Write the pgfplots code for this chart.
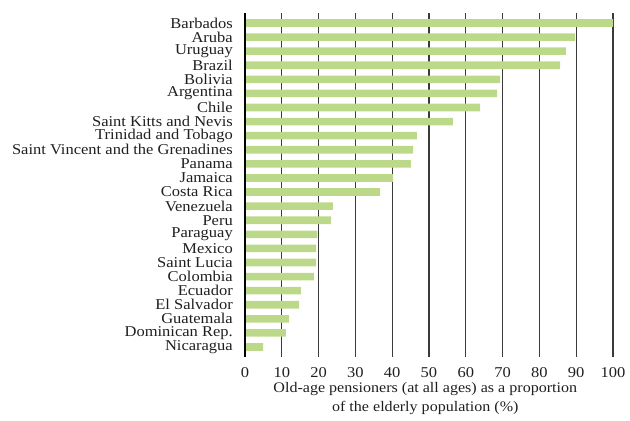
\documentclass[border=0pt]{standalone}
\usepackage{pgfplots}
\pgfplotsset{compat=1.18}
\usepackage{pgfplotstable}
\usepackage{fontspec}
\setmainfont{Liberation Serif}[FakeStretch=1.1]
\definecolor{barg}{HTML}{BCD98A}
\definecolor{gridc}{HTML}{3A3A3A}
\pgfplotstableread[col sep=comma]{
idx,val
0,100
1,89.7
2,87.2
3,85.6
4,69.3
5,68.5
6,63.9
7,56.5
8,46.7
9,45.7
10,45.1
11,40.2
12,36.7
13,23.9
14,23.4
15,19.7
16,19.3
17,19.3
18,18.7
19,15.2
20,14.7
21,12.0
22,11.1
23,4.9
}\datatable
\begin{document}
\begin{tikzpicture}
\path[use as bounding box] (-245bp,-64bp) rectangle (385bp,357bp);
\begin{axis}[
  at={(0,0)}, anchor=south west, 
  scale only axis,
  width=368bp, height=344bp,
  xmin=0, xmax=100,
  ymin=-0.71, ymax=23.71,
  y dir=reverse,
  xbar, bar width=7.6bp,
  axis line style={draw=none},
  xtick={0,10,...,100},
  ytick={0,...,23},
  yticklabels={Barbados,Aruba,Uruguay,Brazil,Bolivia,Argentina,Chile,Saint Kitts and Nevis,Trinidad and Tobago,Saint Vincent and the Grenadines,Panama,Jamaica,Costa Rica,Venezuela,Peru,Paraguay,Mexico,Saint Lucia,Colombia,Ecuador,El Salvador,Guatemala,Dominican Rep.,Nicaragua},
  major tick length=0pt,
  xmajorgrids,
  major grid style={gridc, line width=1.3bp},
  /pgf/number format/assume math mode=true,
  tick label style={font=\fontsize{15bp}{16bp}\selectfont, text=black!88},
  yticklabel style={anchor=east, inner sep=0pt, xshift=-12bp},
  xticklabel style={anchor=base, inner sep=0pt, yshift=-20bp},
  xlabel={Old-age pensioners (at all ages) as a proportion\\of the elderly population (\%)},
  xlabel style={font=\fontsize{14.6bp}{18.5bp}\selectfont, text=black!88, align=center, anchor=north, at={(axis description cs:0.49,0)}, yshift=-22bp},
  clip=false,
]
\addplot[draw=none, fill=barg, bar shift=0pt] table[x=val, y=idx] {\datatable};
\draw[black, line width=1.3bp] (axis cs:0,-0.71) -- (axis cs:0,23.71);
\end{axis}
\end{tikzpicture}
\end{document}
